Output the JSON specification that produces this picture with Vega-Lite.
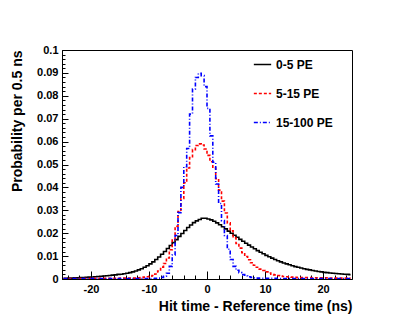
{
"$schema": "https://vega.github.io/schema/vega-lite/v6.json",
"width": 290, "height": 229,
"autosize": {"type": "none"},
"padding": {"left": 62, "top": 50, "right": 63, "bottom": 50},
"background": "white",
"config": {
  "view": {"stroke": "black", "strokeWidth": 1},
  "axis": {"labelFont": "Liberation Sans", "labelFontWeight": "bold", "labelFontSize": 11, "labelColor": "black",
           "titleFont": "Liberation Sans", "titleFontWeight": "bold", "titleFontSize": 14, "titleColor": "black",
           "domainColor": "black", "tickColor": "black", "grid": false}
},
"data": {"values": [
{"t":-24.75,"low":0.0003,"mid":0.0002,"high":0.0002},
{"t":-24.25,"low":0.0003,"mid":0.0002,"high":0.0002},
{"t":-23.75,"low":0.0004,"mid":0.0002,"high":0.0002},
{"t":-23.25,"low":0.0004,"mid":0.0002,"high":0.0002},
{"t":-22.75,"low":0.0005,"mid":0.0002,"high":0.0002},
{"t":-22.25,"low":0.0005,"mid":0.0002,"high":0.0002},
{"t":-21.75,"low":0.0006,"mid":0.0002,"high":0.0002},
{"t":-21.25,"low":0.0006,"mid":0.0002,"high":0.0002},
{"t":-20.75,"low":0.0007,"mid":0.0002,"high":0.0002},
{"t":-20.25,"low":0.0008,"mid":0.0002,"high":0.0002},
{"t":-19.75,"low":0.0009,"mid":0.0003,"high":0.0002},
{"t":-19.25,"low":0.001,"mid":0.0003,"high":0.0002},
{"t":-18.75,"low":0.0011,"mid":0.0003,"high":0.0002},
{"t":-18.25,"low":0.0012,"mid":0.0003,"high":0.0002},
{"t":-17.75,"low":0.0013,"mid":0.0003,"high":0.0002},
{"t":-17.25,"low":0.0014,"mid":0.0003,"high":0.0002},
{"t":-16.75,"low":0.0015,"mid":0.0003,"high":0.0002},
{"t":-16.25,"low":0.0017,"mid":0.0003,"high":0.0002},
{"t":-15.75,"low":0.0018,"mid":0.0003,"high":0.0002},
{"t":-15.25,"low":0.002,"mid":0.0003,"high":0.0002},
{"t":-14.75,"low":0.0021,"mid":0.0004,"high":0.0002},
{"t":-14.25,"low":0.0023,"mid":0.0004,"high":0.0002},
{"t":-13.75,"low":0.0025,"mid":0.0004,"high":0.0002},
{"t":-13.25,"low":0.0028,"mid":0.0004,"high":0.0002},
{"t":-12.75,"low":0.0031,"mid":0.0004,"high":0.0002},
{"t":-12.25,"low":0.0035,"mid":0.0004,"high":0.0002},
{"t":-11.75,"low":0.004,"mid":0.0005,"high":0.0002},
{"t":-11.25,"low":0.0045,"mid":0.0006,"high":0.0002},
{"t":-10.75,"low":0.0051,"mid":0.0008,"high":0.0002},
{"t":-10.25,"low":0.0058,"mid":0.001,"high":0.0002},
{"t":-9.75,"low":0.0066,"mid":0.0012,"high":0.0002},
{"t":-9.25,"low":0.0075,"mid":0.0015,"high":0.0002},
{"t":-8.75,"low":0.0085,"mid":0.0022,"high":0.0003},
{"t":-8.25,"low":0.0096,"mid":0.0035,"high":0.0004},
{"t":-7.75,"low":0.0108,"mid":0.0052,"high":0.0007},
{"t":-7.25,"low":0.012,"mid":0.0068,"high":0.0012},
{"t":-6.75,"low":0.0133,"mid":0.0092,"high":0.0025},
{"t":-6.25,"low":0.0146,"mid":0.0128,"high":0.0055},
{"t":-5.75,"low":0.0159,"mid":0.017,"high":0.0105},
{"t":-5.25,"low":0.0172,"mid":0.023,"high":0.019},
{"t":-4.75,"low":0.0186,"mid":0.0295,"high":0.029},
{"t":-4.25,"low":0.0199,"mid":0.0352,"high":0.04},
{"t":-3.75,"low":0.0212,"mid":0.042,"high":0.049},
{"t":-3.25,"low":0.0225,"mid":0.0485,"high":0.057},
{"t":-2.75,"low":0.0236,"mid":0.053,"high":0.072},
{"t":-2.25,"low":0.0246,"mid":0.0565,"high":0.083},
{"t":-1.75,"low":0.0254,"mid":0.0583,"high":0.088},
{"t":-1.25,"low":0.026,"mid":0.059,"high":0.0898},
{"t":-0.75,"low":0.0265,"mid":0.0585,"high":0.0888},
{"t":-0.25,"low":0.0265,"mid":0.0568,"high":0.084},
{"t":0.25,"low":0.0262,"mid":0.054,"high":0.0745},
{"t":0.75,"low":0.0258,"mid":0.0512,"high":0.0625},
{"t":1.25,"low":0.0252,"mid":0.0485,"high":0.051},
{"t":1.75,"low":0.0245,"mid":0.0438,"high":0.0415},
{"t":2.25,"low":0.0237,"mid":0.0388,"high":0.033},
{"t":2.75,"low":0.0228,"mid":0.034,"high":0.0255},
{"t":3.25,"low":0.0219,"mid":0.0288,"high":0.019},
{"t":3.75,"low":0.0209,"mid":0.0245,"high":0.013},
{"t":4.25,"low":0.02,"mid":0.021,"high":0.0085},
{"t":4.75,"low":0.0191,"mid":0.018,"high":0.0055},
{"t":5.25,"low":0.0182,"mid":0.0155,"high":0.0038},
{"t":5.75,"low":0.0173,"mid":0.0135,"high":0.0028},
{"t":6.25,"low":0.0165,"mid":0.0115,"high":0.0019},
{"t":6.75,"low":0.0156,"mid":0.0098,"high":0.0013},
{"t":7.25,"low":0.0148,"mid":0.0084,"high":0.001},
{"t":7.75,"low":0.014,"mid":0.0071,"high":0.0007},
{"t":8.25,"low":0.0132,"mid":0.006,"high":0.0005},
{"t":8.75,"low":0.0124,"mid":0.0051,"high":0.0004},
{"t":9.25,"low":0.0117,"mid":0.0043,"high":0.0003},
{"t":9.75,"low":0.011,"mid":0.0037,"high":0.0003},
{"t":10.25,"low":0.0103,"mid":0.0031,"high":0.0003},
{"t":10.75,"low":0.0097,"mid":0.0026,"high":0.0003},
{"t":11.25,"low":0.0091,"mid":0.0021,"high":0.0003},
{"t":11.75,"low":0.0085,"mid":0.0018,"high":0.0003},
{"t":12.25,"low":0.008,"mid":0.0015,"high":0.0002},
{"t":12.75,"low":0.0075,"mid":0.0013,"high":0.0002},
{"t":13.25,"low":0.007,"mid":0.0011,"high":0.0002},
{"t":13.75,"low":0.0066,"mid":0.001,"high":0.0002},
{"t":14.25,"low":0.0062,"mid":0.0009,"high":0.0002},
{"t":14.75,"low":0.0058,"mid":0.0008,"high":0.0002},
{"t":15.25,"low":0.0054,"mid":0.0007,"high":0.0002},
{"t":15.75,"low":0.0051,"mid":0.0006,"high":0.0002},
{"t":16.25,"low":0.0048,"mid":0.0006,"high":0.0002},
{"t":16.75,"low":0.0045,"mid":0.0006,"high":0.0002},
{"t":17.25,"low":0.0042,"mid":0.0006,"high":0.0002},
{"t":17.75,"low":0.004,"mid":0.0006,"high":0.0002},
{"t":18.25,"low":0.0037,"mid":0.0005,"high":0.0002},
{"t":18.75,"low":0.0035,"mid":0.0005,"high":0.0002},
{"t":19.25,"low":0.0033,"mid":0.0005,"high":0.0002},
{"t":19.75,"low":0.0031,"mid":0.0005,"high":0.0002},
{"t":20.25,"low":0.0029,"mid":0.0005,"high":0.0002},
{"t":20.75,"low":0.0028,"mid":0.0005,"high":0.0002},
{"t":21.25,"low":0.0026,"mid":0.0004,"high":0.0002},
{"t":21.75,"low":0.0025,"mid":0.0004,"high":0.0002},
{"t":22.25,"low":0.0024,"mid":0.0004,"high":0.0002},
{"t":22.75,"low":0.0023,"mid":0.0004,"high":0.0002},
{"t":23.25,"low":0.0022,"mid":0.0004,"high":0.0002},
{"t":23.75,"low":0.0021,"mid":0.0004,"high":0.0002},
{"t":24.25,"low":0.002,"mid":0.0004,"high":0.0002},
{"t":24.75,"low":0.0019,"mid":0.0004,"high":0.0002}
]},
"transform": [{"fold": ["low", "mid", "high"]}],
"layer": [
  {
    "mark": {"type": "line", "interpolate": "step", "strokeWidth": 1.6, "clip": true},
    "encoding": {
      "x": {"field": "t", "type": "quantitative",
            "scale": {"domain": [-25, 25], "nice": false, "zero": false},
            "axis": {"orient": "bottom", "values": [-20, -10, 0, 10, 20], "labelExpr": "'' + datum.value",
                     "tickSize": -8, "labelPadding": 12, "title": "Hit time - Reference time (ns)",
                     "titleAnchor": "end", "titlePadding": 5}},
      "y": {"field": "value", "type": "quantitative",
            "scale": {"domain": [0, 0.1], "nice": false},
            "axis": {"orient": "left", "values": [0, 0.01, 0.02, 0.03, 0.04, 0.05, 0.06, 0.07, 0.08, 0.09, 0.1],
                     "format": "~g", "tickSize": -6, "labelPadding": 10, "title": "Probability per 0.5 ns",
                     "titleAnchor": "end", "titlePadding": 12}},
      "color": {"field": "key", "type": "nominal",
                "scale": {"domain": ["low", "mid", "high"], "range": ["#000000", "#ff0000", "#0000ff"]},
                "legend": {"title": null, "orient": "none", "legendX": 191, "legendY": 5,
                           "symbolType": "stroke", "symbolSize": 300, "symbolStrokeWidth": 1.6,
                           "labelFont": "Liberation Sans", "labelFontWeight": "bold", "labelFontSize": 12,
                           "labelColor": "black", "labelOffset": 4, "rowPadding": 13,
                           "labelExpr": "datum.value == 'low' ? '0-5 PE' : datum.value == 'mid' ? '5-15 PE' : '15-100 PE'"}},
      "strokeDash": {"field": "key", "type": "nominal",
                     "scale": {"domain": ["low", "mid", "high"], "range": [[1, 0], [3, 2], [4, 2, 1, 2]]},
                     "legend": {"title": null, "orient": "none", "legendX": 191, "legendY": 5,
                           "symbolType": "stroke", "symbolSize": 300, "symbolStrokeWidth": 1.6,
                           "labelFont": "Liberation Sans", "labelFontWeight": "bold", "labelFontSize": 12,
                           "labelColor": "black", "labelOffset": 4, "rowPadding": 13,
                           "labelExpr": "datum.value == 'low' ? '0-5 PE' : datum.value == 'mid' ? '5-15 PE' : '15-100 PE'"}}
    }
  },
  {
    "mark": {"type": "point", "opacity": 0},
    "encoding": {
      "x": {"field": "t", "type": "quantitative",
            "axis": {"orient": "bottom", "values": [-24, -22, -18, -16, -14, -12, -8, -6, -4, -2, 2, 4, 6, 8, 12, 14, 16, 18, 22, 24],
                     "labels": false, "domain": false, "tickSize": -4, "title": null}},
      "y": {"field": "value", "type": "quantitative",
            "axis": {"orient": "left", "values": [0.002, 0.004, 0.006, 0.008, 0.012, 0.014, 0.016, 0.018, 0.022, 0.024, 0.026, 0.028, 0.032, 0.034, 0.036, 0.038, 0.042, 0.044, 0.046, 0.048, 0.052, 0.054, 0.056, 0.058, 0.062, 0.064, 0.066, 0.068, 0.072, 0.074, 0.076, 0.078, 0.082, 0.084, 0.086, 0.088, 0.092, 0.094, 0.096, 0.098],
                     "labels": false, "domain": false, "tickSize": -3, "title": null}}
    }
  }
],
"resolve": {"axis": {"x": "independent", "y": "independent"}}
}
